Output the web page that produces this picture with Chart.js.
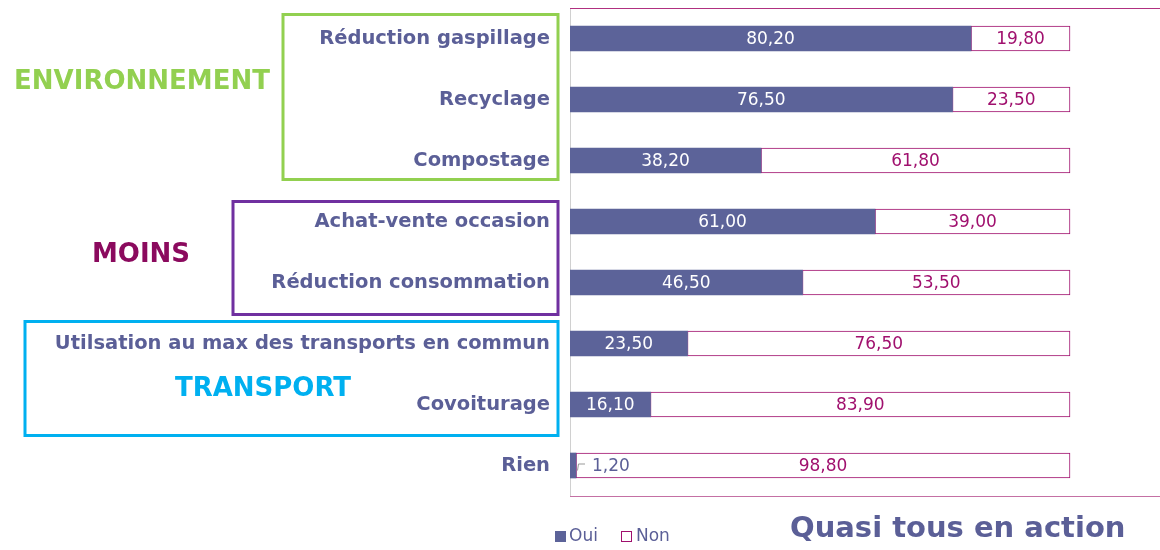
<!DOCTYPE html>
<html>
<head>
<meta charset="utf-8">
<script src="https://cdn.jsdelivr.net/npm/chart.js@4"></script>
<style>
  html, body { margin: 0; padding: 0; background: #fff; }
  #wrap { width: 1160px; height: 550px; position: relative; }
</style>
</head>
<body>
<div id="wrap"><canvas id="chart"></canvas></div>
<script>
// Données
const categories = [
    "Réduction gaspillage",
    "Recyclage",
    "Compostage",
    "Achat-vente occasion",
    "Réduction consommation",
    "Utilsation au max des transports en commun",
    "Covoiturage",
    "Rien"
];
const ouiValues = [80.20, 76.50, 38.20, 61.00, 46.50, 23.50, 16.10, 1.20];
const nonValues = [19.80, 23.50, 61.80, 39.00, 53.50, 76.50, 83.90, 98.80];
const seriesNames = ["Oui", "Non"];
const chartTitle = "Quasi tous en action";

// Groupes encadrés (index des catégories)
const groups = [
    { name: "ENVIRONNEMENT", first: 0, last: 2, color: "#92d050", textColor: "#92d050", boxLeft: 283, top: -24, bottom: 19, tx: 142, ty: 82 },
    { name: "MOINS", first: 3, last: 4, color: "#7030a0", textColor: "#8b0a5e", boxLeft: 233, top: -20, bottom: 32, tx: 141, ty: 255 },
    { name: "TRANSPORT", first: 5, last: 6, color: "#00b0f0", textColor: "#00b0f0", boxLeft: 25, top: -22, bottom: 31, tx: 263, ty: 389 }
];

const SLATE = "#5b5f97";
const PLUM = "#a0106e";
const FONT = "'DejaVu Sans', Verdana, sans-serif";

const decorPlugin = {
    id: 'decor',
    beforeDatasetsDraw(chart) {
        const { ctx, chartArea: a } = chart;
        ctx.save();
        ctx.lineWidth = 1;
        ctx.strokeStyle = "#d0d0d0";
        ctx.beginPath();
        ctx.moveTo(a.left + 0.5, a.top);
        ctx.lineTo(a.left + 0.5, a.bottom);
        ctx.stroke();
        ctx.strokeStyle = "#b03080";
        ctx.beginPath();
        ctx.moveTo(a.left, a.top + 0.5);
        ctx.lineTo(a.right, a.top + 0.5);
        ctx.stroke();
        ctx.strokeStyle = "#c470a4";
        ctx.beginPath();
        ctx.moveTo(a.left, a.bottom + 0.5);
        ctx.lineTo(a.right, a.bottom + 0.5);
        ctx.stroke();
        ctx.restore();
    },
    afterDraw(chart) {
        const { ctx, chartArea: a, scales } = chart;
        const y = scales.y;
        ctx.save();
        // cadres des groupes
        groups.forEach(g => {
            const top = y.getPixelForValue(g.first) + g.top;
            const bottom = y.getPixelForValue(g.last) + g.bottom;
            const right = a.left - 12;
            ctx.strokeStyle = g.color;
            ctx.lineWidth = 3;
            ctx.strokeRect(g.boxLeft, top, right - g.boxLeft, bottom - top);
            ctx.fillStyle = g.textColor;
            ctx.font = "bold 26px " + FONT;
            ctx.textAlign = "center";
            ctx.textBaseline = "middle";
            ctx.fillText(g.name, g.tx, g.ty);
        });

        // étiquettes de valeurs
        ctx.font = "17px " + FONT;
        ctx.textBaseline = "middle";
        ctx.textAlign = "center";
        chart.data.datasets.forEach((ds, di) => {
            chart.getDatasetMeta(di).data.forEach((bar, i) => {
                const v = ds.data[i];
                const txt = v.toFixed(2).replace('.', ',');
                const left = Math.min(bar.base, bar.x), right = Math.max(bar.base, bar.x);
                const w = right - left;
                if (di === 0 && w < 30) {
                    ctx.strokeStyle = "#999";
                    ctx.lineWidth = 1;
                    ctx.beginPath();
                    ctx.moveTo(right + 1.5, bar.y + 5);
                    ctx.lineTo(right + 2.5, bar.y - 1.5);
                    ctx.lineTo(right + 9, bar.y - 1.5);
                    ctx.stroke();
                    ctx.fillStyle = SLATE;
                    ctx.textAlign = "left";
                    ctx.fillText(txt, right + 16, bar.y + 1);
                    ctx.textAlign = "center";
                } else {
                    ctx.fillStyle = di === 0 ? "#ffffff" : PLUM;
                    ctx.fillText(txt, (left + right) / 2, bar.y + 1);
                }
            });
        });

        // légende
        const ly = 537;
        ctx.font = "17px " + FONT;
        ctx.textAlign = "left";
        ctx.fillStyle = "#5c6399";
        ctx.fillRect(555, ly - 6, 11, 11);
        ctx.fillStyle = SLATE;
        ctx.fillText(seriesNames[0], 569, ly);
        ctx.strokeStyle = PLUM;
        ctx.lineWidth = 1;
        ctx.strokeRect(621.5, ly - 5.5, 10, 10);
        ctx.fillText(seriesNames[1], 636, ly);

        // titre
        ctx.font = "bold 29px " + FONT;
        ctx.fillStyle = SLATE;
        ctx.textAlign = "left";
        ctx.fillText(chartTitle, 790, 529);
        ctx.restore();
    }
};

new Chart(document.getElementById('chart'), {
    type: 'bar',
    data: {
        labels: categories,
        datasets: [
            {
                label: seriesNames[0],
                data: ouiValues,
                backgroundColor: "#5c6399",
                borderColor: "#5c6399",
                borderWidth: 0,
                barThickness: 25
            },
            {
                label: seriesNames[1],
                data: nonValues,
                backgroundColor: "#ffffff",
                borderColor: PLUM,
                borderWidth: 1,
                borderSkipped: false,
                barThickness: 25
            }
        ]
    },
    options: {
        indexAxis: 'y',
        responsive: true,
        maintainAspectRatio: false,
        animation: false,
        layout: { padding: { top: 8, right: 0, bottom: 54, left: 0 } },
        plugins: {
            legend: { display: false },
            tooltip: { enabled: false }
        },
        scales: {
            x: {
                stacked: true,
                min: 0,
                max: 118,
                display: false
            },
            y: {
                stacked: true,
                border: { display: false },
                grid: { display: false, drawTicks: false },
                ticks: {
                    padding: 20,
                    color: SLATE,
                    font: { family: FONT, size: 19.5, weight: 'bold' }
                },
                afterFit(scale) {
                    scale.width = 570;
                    scale.paddingTop = 0;
                    scale.paddingBottom = 0;
                }
            }
        }
    },
    plugins: [decorPlugin]
});
</script>
</body>
</html>
